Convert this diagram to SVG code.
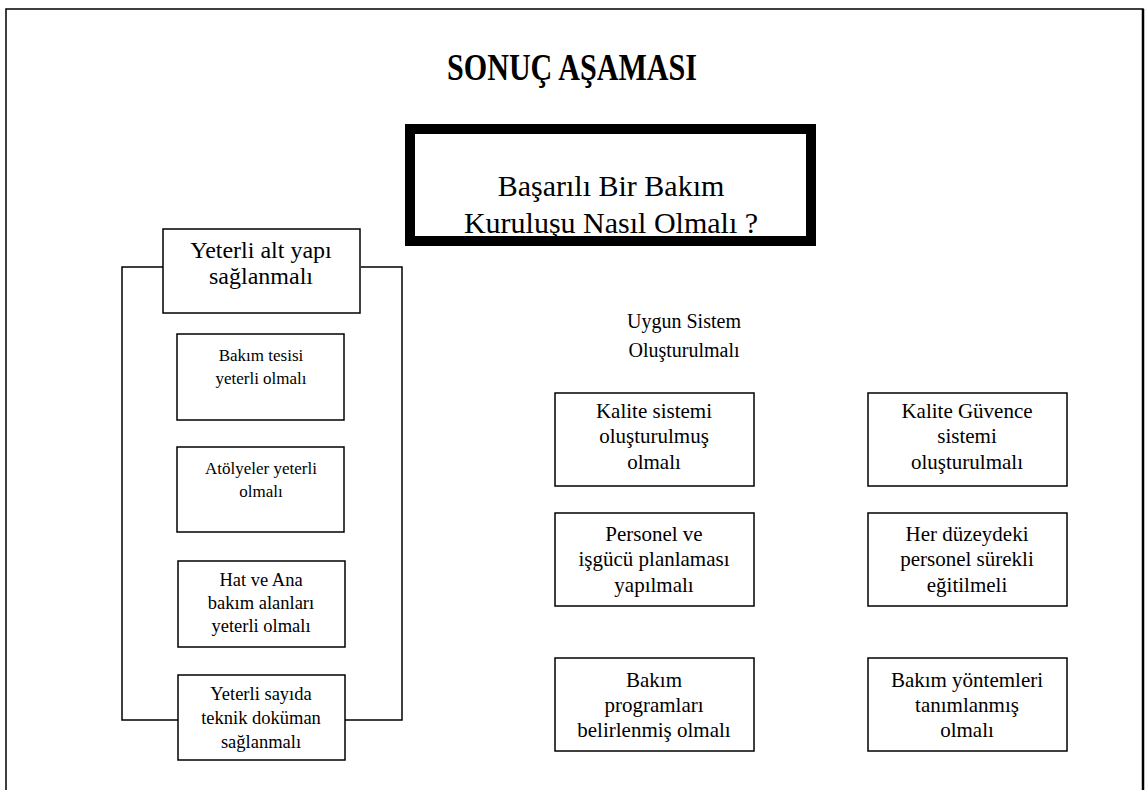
<svg xmlns="http://www.w3.org/2000/svg" width="1145" height="790" viewBox="0 0 1145 790">
  <style>
    .frame { fill: none; stroke: #000; stroke-width: 1.5; }
    .box { fill: #fff; stroke: #000; stroke-width: 1.5; }
    text { font-family: "Liberation Serif", "Times New Roman", serif; fill: #000; text-anchor: middle; }
    .s { font-size: 17px; }
    .l { font-size: 18.5px; }
    .u { font-size: 20px; }
    .m { font-size: 21px; }
    .h { font-size: 24px; }
    .q { font-size: 30px; }
  </style>
  <rect width="1145" height="790" fill="#fff"/>
  <!-- page frame, open at the bottom -->
  <path class="frame" d="M6,790 V9 H1143 V790"/>
  <line x1="1143" y1="9" x2="1143" y2="790" stroke="#000" stroke-width="2.5"/>

  <text x="572" y="80" font-size="37" font-weight="bold" textLength="250" lengthAdjust="spacingAndGlyphs">SONUÇ AŞAMASI</text>

  <g id="connectors">
    <!-- bracket joining the infrastructure heading to its last item -->
    <path class="frame" d="M163,267 H122 V720 H178"/>
    <path class="frame" d="M361,267 H402 V720 H345"/>
  </g>

  <g id="question">
    <rect x="410" y="129" width="401" height="112" fill="#fff" stroke="#000" stroke-width="10"/>
    <text class="q" x="611" y="196">Başarılı Bir Bakım</text>
    <text class="q" x="611" y="233">Kuruluşu Nasıl Olmalı ?</text>
  </g>

  <g id="altyapi">
    <rect class="box" x="163" y="229" width="197" height="84"/>
    <text class="h" x="261" y="258">Yeterli alt yapı</text>
    <text class="h" x="261" y="284">sağlanmalı</text>
  </g>

  <g id="tesis">
    <rect class="box" x="177" y="334" width="167" height="86"/>
    <text class="s" x="261" y="361">Bakım tesisi</text>
    <text class="s" x="261" y="384">yeterli olmalı</text>
  </g>

  <g id="atolye">
    <rect class="box" x="177" y="447" width="167" height="85"/>
    <text class="s" x="261" y="474">Atölyeler yeterli</text>
    <text class="s" x="261" y="497">olmalı</text>
  </g>

  <g id="hat">
    <rect class="box" x="178" y="561" width="167" height="86"/>
    <text class="l" x="261" y="586">Hat ve Ana</text>
    <text class="l" x="261" y="609">bakım alanları</text>
    <text class="l" x="261" y="632">yeterli olmalı</text>
  </g>

  <g id="dokuman">
    <rect class="box" x="178" y="675" width="167" height="85"/>
    <text class="l" x="261" y="700">Yeterli sayıda</text>
    <text class="l" x="261" y="724">teknik doküman</text>
    <text class="l" x="261" y="748">sağlanmalı</text>
  </g>

  <g id="sistem">
    <text class="u" x="684" y="328">Uygun Sistem</text>
    <text class="u" x="684" y="357">Oluşturulmalı</text>
  </g>

  <g id="kalite">
    <rect class="box" x="555" y="393" width="199" height="93"/>
    <text class="m" x="654" y="418">Kalite sistemi</text>
    <text class="m" x="654" y="443">oluşturulmuş</text>
    <text class="m" x="654" y="469">olmalı</text>
  </g>

  <g id="guvence">
    <rect class="box" x="868" y="393" width="199" height="93"/>
    <text class="m" x="967" y="418">Kalite Güvence</text>
    <text class="m" x="967" y="443">sistemi</text>
    <text class="m" x="967" y="469">oluşturulmalı</text>
  </g>

  <g id="personel">
    <rect class="box" x="555" y="513" width="199" height="93"/>
    <text class="m" x="654" y="541">Personel ve</text>
    <text class="m" x="654" y="566">işgücü planlaması</text>
    <text class="m" x="654" y="592">yapılmalı</text>
  </g>

  <g id="egitim">
    <rect class="box" x="868" y="513" width="199" height="93"/>
    <text class="m" x="967" y="541">Her düzeydeki</text>
    <text class="m" x="967" y="566">personel sürekli</text>
    <text class="m" x="967" y="592">eğitilmeli</text>
  </g>

  <g id="program">
    <rect class="box" x="555" y="658" width="199" height="93"/>
    <text class="m" x="654" y="687">Bakım</text>
    <text class="m" x="654" y="712">programları</text>
    <text class="m" x="654" y="737">belirlenmiş olmalı</text>
  </g>

  <g id="yontem">
    <rect class="box" x="868" y="658" width="199" height="93"/>
    <text class="m" x="967" y="687">Bakım yöntemleri</text>
    <text class="m" x="967" y="712">tanımlanmış</text>
    <text class="m" x="967" y="737">olmalı</text>
  </g>
</svg>
